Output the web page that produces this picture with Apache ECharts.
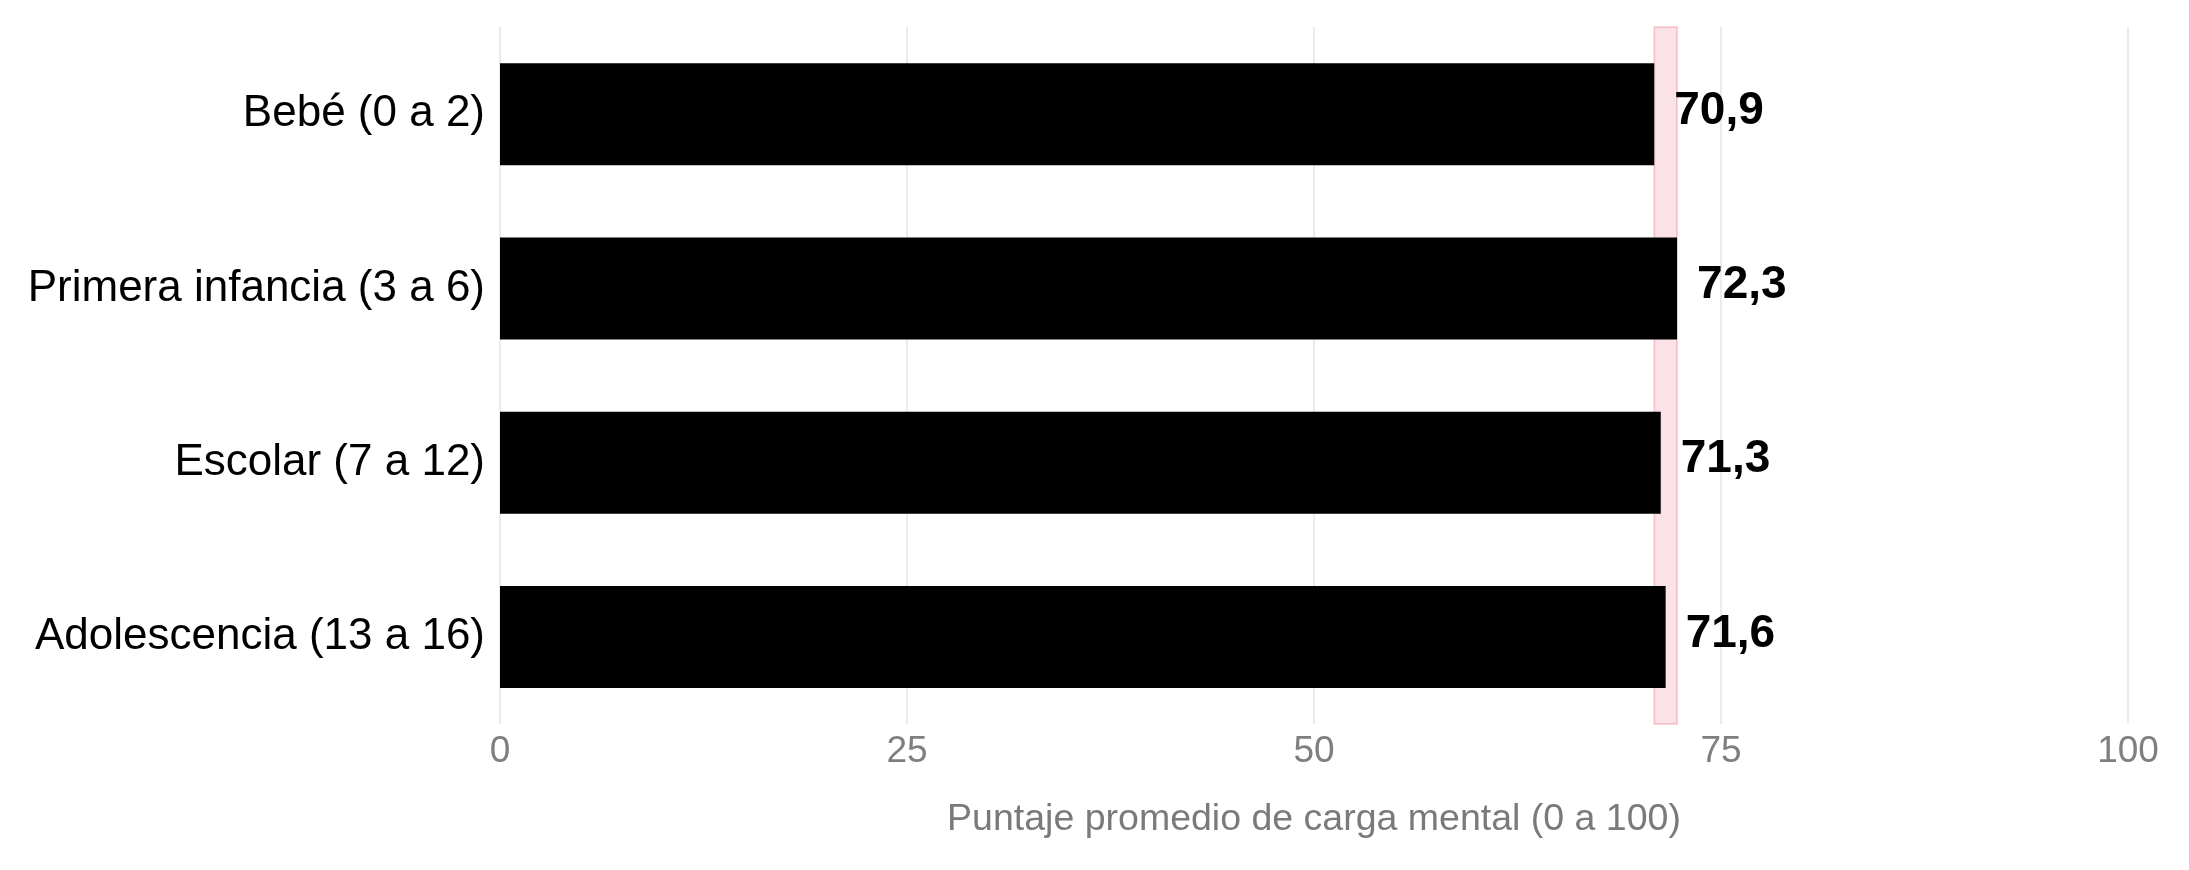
<!DOCTYPE html>
<html>
<head>
<meta charset="utf-8">
<title>Carga mental por edad</title>
<script src="https://cdn.jsdelivr.net/npm/echarts@6/dist/echarts.min.js"></script>
<style>
  html, body { margin: 0; padding: 0; background: #fff; }
  #chart { width: 2189px; height: 870px; }
</style>
</head>
<body>
<div id="chart"></div>
<script>
// data
const categories = ['Bebé (0 a 2)', 'Primera infancia (3 a 6)', 'Escolar (7 a 12)', 'Adolescencia (13 a 16)'];
const scores = [70.9, 72.3, 71.3, 71.6];
const bandRange = [70.9, 72.3];
const xTicks = [0, 25, 50, 75, 100];

const FONT = '"Liberation Sans", Arial, sans-serif';

const fmtComma = v => v.toFixed(1).replace('.', ',');

const myChart = echarts.init(document.getElementById('chart'), null, { renderer: 'canvas' });

const option = {
    animation: false,
    backgroundColor: '#ffffff',
    grid: {
        left: 500,
        right: 61,
        top: 27,
        bottom: 146,
        containLabel: false
    },
    xAxis: {
        type: 'value',
        min: xTicks[0],
        max: xTicks[xTicks.length - 1],
        interval: 25,
        name: 'Puntaje promedio de carga mental (0 a 100)',
        nameLocation: 'middle',
        nameGap: 77,
        nameTextStyle: { color: '#7a7a7a', fontSize: 37.5, fontFamily: FONT },
        axisLine: { show: false },
        axisTick: { show: false },
        axisLabel: { color: '#7f7f7f', fontSize: 37, fontFamily: FONT, margin: 9 },
        splitLine: { show: true, lineStyle: { color: '#ebebeb', width: 2 } }
    },
    yAxis: {
        type: 'category',
        data: categories,
        inverse: true,
        axisLine: { show: false },
        axisTick: { show: false },
        axisLabel: { color: '#000000', fontSize: 44, fontFamily: FONT, margin: 15 },
        splitLine: { show: false }
    },
    series: [
        {
            type: 'bar',
            data: scores,
            barWidth: 102,
            itemStyle: { color: '#000000' },
            z: 2,
            label: {
                show: true,
                position: 'right',
                distance: 20,
                offset: [0, -3],
                color: '#000000',
                fontSize: 46,
                fontWeight: 'bold',
                fontFamily: FONT,
                formatter: p => fmtComma(p.value)
            }
        },
        {
            // range band drawn over the bars
            type: 'line',
            data: [],
            z: 5,
            silent: true,
            markArea: {
                silent: true,
                itemStyle: {
                    color: 'rgba(220, 20, 60, 0.12)',
                    borderColor: 'rgba(220, 20, 60, 0.18)',
                    borderWidth: 2
                },
                data: [[{ xAxis: bandRange[0] }, { xAxis: bandRange[1] }]]
            }
        }
    ]
};

myChart.setOption(option);
</script>
</body>
</html>
